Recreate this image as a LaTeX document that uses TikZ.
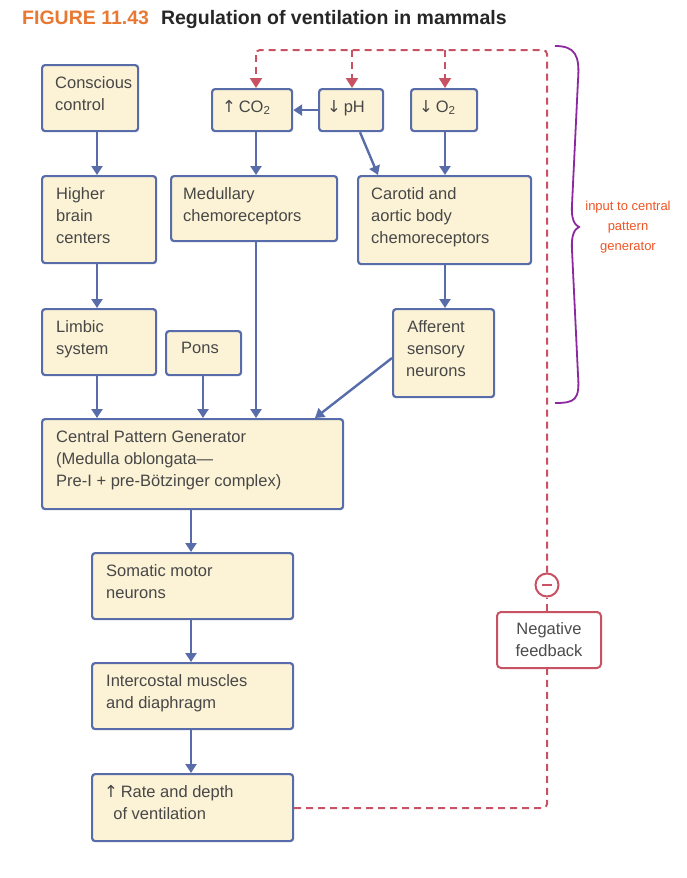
\documentclass[tikz,border=0pt]{standalone}
\usepackage{fontspec}
\setmainfont{Liberation Sans}
\newfontfamily\arrfont{DejaVu Sans}
\usetikzlibrary{arrows.meta, positioning, decorations.pathreplacing}
\definecolor{boxfill}{RGB}{252,243,214}
\definecolor{boxline}{RGB}{88,108,170}
\definecolor{fbred}{RGB}{200,82,100}
\definecolor{figorange}{RGB}{232,120,50}
\definecolor{bracepurple}{RGB}{140,40,160}
\tikzset{
  box/.style={draw=boxline, fill=boxfill, line width=2.2pt, rounded corners=3pt,
              align=left, inner sep=0pt, anchor=north west},
  flow/.style={-{Triangle[width=11pt,length=9pt]}, draw=boxline, line width=2.4pt},
  fb/.style={draw=fbred, line width=2pt, dash pattern=on 7pt off 5pt},
  fbarrow/.style={fb, -{Triangle[width=12pt,length=10pt]}}
}
\newcommand{\bx}[5]{% name, x1, y1, x2, y2
  \node[box, minimum width={(#4-#2)*1pt}, minimum height={(#5-#3)*1pt}] (#1) at (#2,#3) {};}
\newcommand{\up}{{\arrfont\char"2191}}
\newcommand{\dn}{{\arrfont\char"2193}}
\begin{document}
\begin{tikzpicture}[x=1pt, y=-1pt]
\useasboundingbox (0,0) rectangle (686,878);

% title
\node[anchor=west, font=\fontsize{19.5}{24}\selectfont\bfseries, inner sep=0pt] (title) at (22,20)
  {\textcolor{figorange}{FIGURE 11.43}\hspace{12pt}\textcolor{black!85}{Regulation of ventilation in mammals}};

% boxes
\bx{cons}{41}{64}{137}{130}
\bx{co2}{211}{88}{291}{130}
\bx{ph}{318}{88}{382}{130}
\bx{o2}{410}{88}{476}{130}
\bx{higher}{41}{175}{155}{262}
\bx{medul}{170}{175}{336}{240}
\bx{carot}{357}{175}{530}{263}
\bx{limbic}{41}{308}{155}{374}
\bx{pons}{165}{330}{240}{374}
\bx{aff}{392}{308}{493}{396}
\bx{cpg}{41}{418}{342}{508}
\bx{motor}{91}{552}{292}{618}
\bx{muscle}{91}{662}{292}{728}
\bx{rate}{91}{773}{292}{840}

% texts
\tikzset{lbl/.style={anchor=north west, align=left, inner sep=0pt, text=black!72,
                     font=\fontsize{16.5}{22}\selectfont}}
\node[lbl] at (55,76) {Conscious\\control};
\node[lbl] at (222,100) {\up\,CO\textsubscript{2}};
\node[lbl] at (327,100) {\dn\,pH};
\node[lbl] at (419,100) {\dn\,O\textsubscript{2}};
\node[lbl] at (56,187) {Higher\\brain\\centers};
\node[lbl] at (183,187) {Medullary\\chemoreceptors};
\node[lbl] at (371,187) {Carotid and\\aortic body\\chemoreceptors};
\node[lbl] at (56,320) {Limbic\\system};
\node[lbl] at (181,342) {Pons};
\node[lbl, align=center] at (406,320) {Afferent\\sensory\\neurons};
\node[lbl] at (56,430) {Central Pattern Generator\\(Medulla oblongata---\\Pre-I + pre-Bötzinger complex)};
\node[lbl] at (106,564) {Somatic motor\\neurons};
\node[lbl] at (106,674) {Intercostal muscles\\and diaphragm};
\node[lbl] at (104,785) {\up\,Rate and depth\\\ \ of ventilation};

% feedback
\node[draw=fbred, line width=2pt, rounded corners=4pt, fill=white, align=center,
      text=black!70, font=\fontsize{16.5}{22}\selectfont, minimum width=104pt,
      minimum height=56pt, inner sep=0pt] (neg) at (549,640) {Negative\\feedback};
\node[circle, draw=fbred, line width=2pt, fill=white, minimum size=23pt,
      inner sep=0pt] (minus) at (547,585) {};
\draw[fbred, line width=2pt] ([xshift=-5pt]minus.center) -- ([xshift=5pt]minus.center);

% blue arrows
\draw[flow] (cons.south -| 97,0) -- (higher.north -| 97,0);
\draw[flow] (higher.south -| 97,0) -- (limbic.north -| 97,0);
\draw[flow] (limbic.south -| 97,0) -- (cpg.north -| 97,0);
\draw[flow] (pons.south -| 203,0) -- (cpg.north -| 203,0);
\draw[flow] (co2.south -| 256,0) -- (medul.north -| 256,0);
\draw[flow] (medul.south -| 256,0) -- (cpg.north -| 256,0);
\draw[flow] (ph.west) -- (co2.east);
\draw[flow] (ph.south -| 360,0) -- (carot.north -| 378,0);
\draw[flow] (o2.south -| 445,0) -- (carot.north -| 445,0);
\draw[flow] (carot.south -| 445,0) -- (aff.north -| 445,0);
\draw[flow] (aff.west |- 0,358) -- (cpg.north -| 315,0);
\draw[flow] (cpg.south -| 191,0) -- (motor.north -| 191,0);
\draw[flow] (motor.south -| 191,0) -- (muscle.north -| 191,0);
\draw[flow] (muscle.south -| 191,0) -- (rate.north -| 191,0);

% negative feedback loop
\coordinate (fbcorner) at (547,808);
\coordinate (fbtop) at (547,50);
\draw[fb, rounded corners=4pt] (rate.east |- fbcorner) -- (fbcorner) -- (neg.south -| fbcorner);
\draw[fb] (neg.north -| minus) -- (minus.south);
\draw[fb, rounded corners=4pt] (minus.north) -- (fbtop) -- (256,50) -- (256,60);
\draw[fbarrow] (256,55) -- (co2.north -| 256,0);
\draw[fbarrow] (352,50) -- (ph.north -| 352,0);
\draw[fbarrow] (445,50) -- (o2.north -| 445,0);

% brace
\draw[bracepurple, line width=1.8pt] (555,46) .. controls (575,46) and (580,55) .. (578,80)
  -- (572,205) .. controls (571,220) and (575,225) .. (579,227)
  .. controls (575,229) and (571,234) .. (572,250)
  -- (578,375) .. controls (580,400) and (575,403) .. (555,403);
\node[align=center, text=figorange!70!red, font=\fontsize{13}{20}\selectfont] (brlbl) at (628,227)
  {input to central\\pattern\\generator};
\end{tikzpicture}
\end{document}
